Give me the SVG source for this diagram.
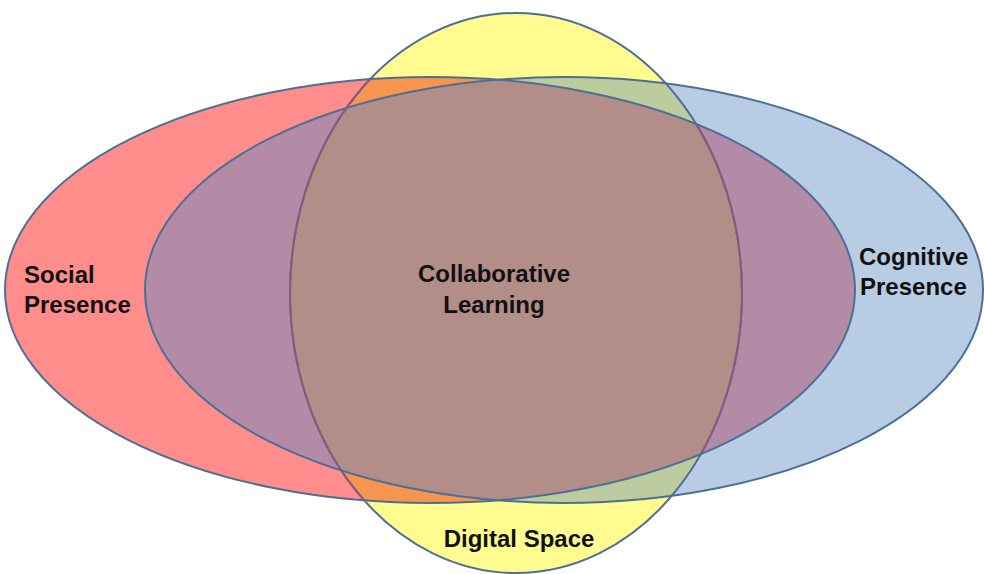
<svg xmlns="http://www.w3.org/2000/svg" width="984" height="574" viewBox="0 0 984 574">
<style>
.lbl{font-family:"Liberation Sans",Arial,sans-serif;font-weight:bold;font-size:24px;fill:#111}
.edge{fill:none;stroke:#4D6F96;stroke-width:2}
</style>
<defs>
<ellipse id="eR" cx="430" cy="290" rx="425" ry="213"/>
<ellipse id="eB" cx="564" cy="290" rx="419" ry="213"/>
<ellipse id="eY" cx="516" cy="293" rx="226" ry="280"/>
<clipPath id="cR"><use href="#eR"/></clipPath>
<clipPath id="cB"><use href="#eB"/></clipPath>
<clipPath id="cY"><use href="#eY"/></clipPath>
</defs>
<rect width="984" height="574" fill="#ffffff"/>
<g id="social-presence">
<use href="#eR" fill="#FE8D8B"/>
</g>
<g id="cognitive-presence">
<use href="#eB" fill="#B8CCE4"/>
</g>
<g id="digital-space">
<use href="#eY" fill="#FFFB8F"/>
</g>
<g id="overlaps">
<g clip-path="url(#cR)"><use href="#eB" fill="#B38BA7"/></g>
<g clip-path="url(#cR)"><use href="#eY" fill="#F79550"/></g>
<g clip-path="url(#cB)"><use href="#eY" fill="#BDCC9F"/></g>
<g clip-path="url(#cR)"><g clip-path="url(#cB)"><use href="#eY" fill="#B38D87"/></g></g>
</g>
<g id="outlines">
<use href="#eY" class="edge"/>
<g clip-path="url(#cR)"><use href="#eY" class="edge" style="stroke:#8A5A7C"/></g>
<use href="#eR" class="edge"/>
<use href="#eB" class="edge"/>
</g>
<g id="labels">
<text class="lbl" x="24" y="283">Social</text>
<text class="lbl" x="24" y="313">Presence</text>
<text class="lbl" x="494" y="282" text-anchor="middle">Collaborative</text>
<text class="lbl" x="494" y="313" text-anchor="middle">Learning</text>
<text class="lbl" x="859" y="265">Cognitive</text>
<text class="lbl" x="860" y="295">Presence</text>
<text class="lbl" x="519" y="547" text-anchor="middle">Digital Space</text>
</g>
</svg>
